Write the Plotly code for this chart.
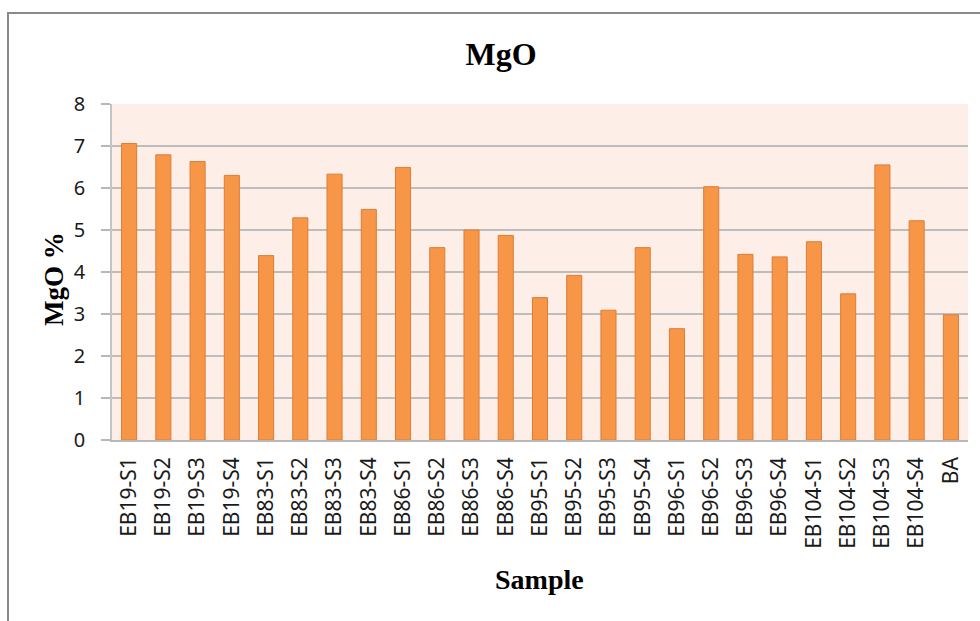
import plotly.graph_objects as go

samples = ["EB19-S1", "EB19-S2", "EB19-S3", "EB19-S4",
           "EB83-S1", "EB83-S2", "EB83-S3", "EB83-S4",
           "EB86-S1", "EB86-S2", "EB86-S3", "EB86-S4",
           "EB95-S1", "EB95-S2", "EB95-S3", "EB95-S4",
           "EB96-S1", "EB96-S2", "EB96-S3", "EB96-S4",
           "EB104-S1", "EB104-S2", "EB104-S3", "EB104-S4", "BA"]
mgo = [7.06, 6.79, 6.63, 6.30,
       4.39, 5.29, 6.33, 5.49,
       6.49, 4.58, 5.00, 4.87,
       3.39, 3.92, 3.09, 4.58,
       2.65, 6.03, 4.42, 4.36,
       4.72, 3.48, 6.55, 5.22, 2.98]
y_ticks = [0, 1, 2, 3, 4, 5, 6, 7, 8]

W, H = 980, 621
L, R, T, B = 112, 12, 104, 181
pw, ph = W - L - R, H - T - B

def px_x(x):
    return (x - L) / pw

def px_y(y):
    return (H - B - y) / ph

fig = go.Figure()
fig.add_trace(go.Bar(
    x=samples, y=mgo,
    marker=dict(color="#F79646", line=dict(color="#DE7C36", width=1)),
    hoverinfo="x+y",
))

serif = "Liberation Serif, Times New Roman, serif"
sans = "Noto Sans, Open Sans, sans-serif"

fig.update_layout(
    width=W, height=H,
    margin=dict(l=L, r=R, t=T, b=B),
    paper_bgcolor="white",
    plot_bgcolor="#FDEEE8",
    bargap=0.56,
    showlegend=False,
    title=dict(text="<b>MgO</b>", x=501 / W, xanchor="center",
               y=1 - 54 / H, yanchor="middle",
               font=dict(family=serif, size=32, color="#000000")),
    xaxis=dict(
        tickangle=-90,
        tickfont=dict(family=sans, size=21, color="#1a1a1a"),
        showline=True, linecolor="#B8B8B8", linewidth=1.5,
        ticks="", showgrid=False,
        ticklabelstandoff=7,
    ),
    yaxis=dict(
        range=[0, 8], tickvals=y_ticks,
        tickfont=dict(family=sans, size=20, color="#1a1a1a"),
        showline=True, linecolor="#C4C4C4", linewidth=1.5,
        ticks="outside", ticklen=9, tickcolor="#B8B8B8", tickwidth=1.5,
        showgrid=True, gridcolor="#BDBDBD", gridwidth=1.5,
        ticklabelstandoff=12,
        zeroline=False,
    ),
    annotations=[
        dict(text="<b>MgO %</b>", xref="paper", yref="paper",
             x=px_x(54), y=px_y(279), xanchor="center", yanchor="middle",
             textangle=-90, showarrow=False,
             font=dict(family=serif, size=27, color="#000000")),
        dict(text="<b>Sample</b>", xref="paper", yref="paper",
             x=px_x(539), y=px_y(579), xanchor="center", yanchor="middle",
             showarrow=False,
             font=dict(family=serif, size=28, color="#000000")),
    ],
    shapes=[
        dict(type="rect", xref="paper", yref="paper",
             x0=px_x(8), y0=px_y(H + 20), x1=px_x(W + 20), y1=px_y(13),
             line=dict(color="#8A8A8A", width=2), fillcolor="rgba(0,0,0,0)",
             layer="above"),
    ],
)

fig.write_html("out.html")
